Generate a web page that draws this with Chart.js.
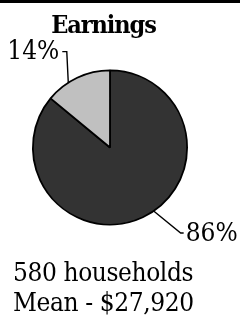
<!DOCTYPE html>
<html>
<head>
<meta charset="utf-8">
<script src="https://cdn.jsdelivr.net/npm/chart.js@4/dist/chart.umd.min.js"></script>
<style>
  html, body { margin: 0; padding: 0; background: #fff; }
  body { width: 240px; height: 318px; position: relative; overflow: hidden; font-family: "DejaVu Serif Condensed", "DejaVu Serif", serif; font-stretch: condensed; color: #000; }
  .topbar { position: absolute; left: 0; top: 0; width: 240px; height: 3px; background: #000; }
  .title { position: absolute; left: 0; width: 207px; top: 10px; text-align: center; font-size: 25px; font-weight: bold; line-height: 30px; letter-spacing: -1.1px; }
  .note { position: absolute; left: 13px; font-size: 26px; line-height: 30px; white-space: nowrap; letter-spacing: -0.4px; }
  #wrap { position: absolute; left: 0; top: 0; width: 240px; height: 318px; }
</style>
</head>
<body>
<div class="topbar"></div>
<div id="wrap"><canvas id="pie"></canvas></div>
<div class="title">Earnings</div>
<div class="note" style="top:257px">580 households</div>
<div class="note" style="top:287px">Mean - $27,920</div>
<script>
// Data
const categories = ['Other', 'Earnings'];
const shares = [86, 14];
const shareLabels = ['86%', '14%'];
const sliceColors = ['#333333', '#c0c0c0'];

// Leader lines: anchor angle is fraction along the slice, then elbow/end offsets
const leaders = [
  { frac: 0.47, elbow: [27, 22], end: [30, 22], align: 'left', textGap: 2 },
  { frac: 0.35, elbow: [-1.5, -31], end: [-6, -31], align: 'right', textGap: 3 }
];

const labelPlugin = {
  id: 'pieLabels',
  afterDatasetsDraw(chart) {
    const ctx = chart.ctx;
    const meta = chart.getDatasetMeta(0);
    ctx.save();
    ctx.strokeStyle = '#000';
    ctx.lineWidth = 1.4;
    ctx.fillStyle = '#000';
    ctx.font = '26px "DejaVu Serif Condensed", "DejaVu Serif", serif';
    if ('fontStretch' in ctx) ctx.fontStretch = 'condensed';
    ctx.textBaseline = 'middle';
    meta.data.forEach((arc, i) => {
      const L = leaders[i];
      const a = arc.startAngle + (arc.endAngle - arc.startAngle) * L.frac;
      const r = arc.outerRadius;
      const x0 = arc.x + Math.cos(a) * r;
      const y0 = arc.y + Math.sin(a) * r;
      const x1 = x0 + L.elbow[0], y1 = y0 + L.elbow[1];
      const x2 = x0 + L.end[0], y2 = y0 + L.end[1];
      ctx.beginPath();
      ctx.moveTo(x0, y0);
      ctx.lineTo(x1, y1);
      ctx.lineTo(x2, y2);
      ctx.stroke();
      ctx.textAlign = L.align;
      const tx = L.align === 'left' ? x2 + L.textGap : x2 - L.textGap;
      ctx.fillText(shareLabels[i], tx, y2 + 1);
    });
    ctx.restore();
  }
};

new Chart(document.getElementById('pie'), {
  type: 'pie',
  data: {
    labels: categories,
    datasets: [{
      data: shares,
      backgroundColor: sliceColors,
      borderColor: '#000',
      borderWidth: 1.8,
      borderAlign: 'center'
    }]
  },
  options: {
    responsive: true,
    maintainAspectRatio: false,
    animation: false,
    layout: { padding: { left: 32, right: 52, top: 69.5, bottom: 92.5 } },
    plugins: {
      legend: { display: false },
      tooltip: { enabled: false },
      title: { display: false }
    }
  },
  plugins: [labelPlugin]
});
</script>
</body>
</html>
